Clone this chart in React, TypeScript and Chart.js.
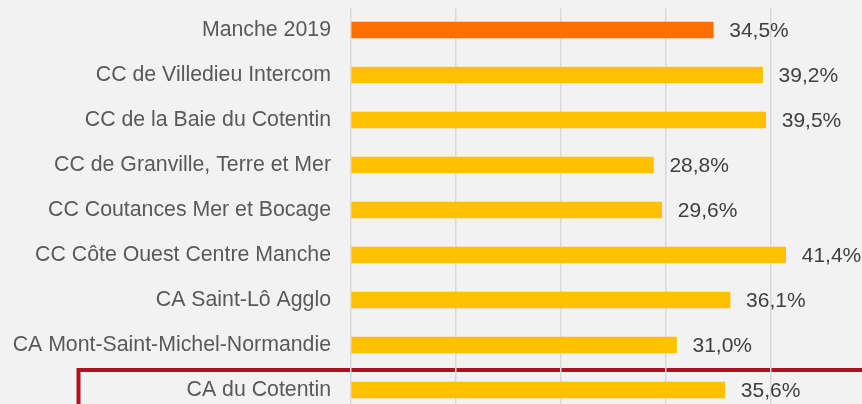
import React, { useEffect, useRef } from "react";
import { Chart, registerables } from "chart.js";

Chart.register(...registerables);

const categories = [
  "Manche 2019",
  "CC de Villedieu Intercom",
  "CC de la Baie du Cotentin",
  "CC de Granville, Terre et Mer",
  "CC Coutances Mer et Bocage",
  "CC Côte Ouest Centre Manche",
  "CA Saint-Lô Agglo",
  "CA Mont-Saint-Michel-Normandie",
  "CA du Cotentin",
];
const values = [34.5, 39.2, 39.5, 28.8, 29.6, 41.4, 36.1, 31.0, 35.6];
const barColors = [
  "#FF6F00",
  "#FFC000",
  "#FFC000",
  "#FFC000",
  "#FFC000",
  "#FFC000",
  "#FFC000",
  "#FFC000",
  "#FFC000",
];
const highlightIndex = 8;
const xTicks = [0, 10, 20, 30, 40, 50];

const FONT = "'Liberation Sans', Arial, sans-serif";

const valueLabels = {
  id: "valueLabels",
  afterDatasetsDraw(chart: any) {
    const ctx = chart.ctx;
    const meta = chart.getDatasetMeta(0);
    ctx.save();
    ctx.font = `21px ${FONT}`;
    ctx.fillStyle = "#404040";
    ctx.textAlign = "left";
    ctx.textBaseline = "middle";
    meta.data.forEach((bar: any, i: number) => {
      const txt = values[i].toFixed(1).replace(".", ",") + "%";
      ctx.fillText(txt, bar.x + 16, bar.y + 1);
    });
    ctx.restore();
  },
};

const highlightBox = {
  id: "highlightBox",
  beforeDraw(chart: any) {
    const ctx = chart.ctx;
    const y = chart.scales.y;
    const center = y.getPixelForValue(highlightIndex);
    const band = y.getPixelForValue(1) - y.getPixelForValue(0);
    const top = center - band / 2 + 2.5;
    ctx.save();
    ctx.strokeStyle = "#B0101F";
    ctx.lineWidth = 4;
    ctx.strokeRect(78.5, top, chart.width + 20, band + 40);
    ctx.restore();
  },
};

const bgPlugin = {
  id: "bg",
  beforeDraw(chart: any) {
    const ctx = chart.ctx;
    ctx.save();
    ctx.fillStyle = "#F2F2F2";
    ctx.fillRect(0, 0, chart.width, chart.height);
    ctx.restore();
  },
};

export default function App() {
  const ref = useRef<HTMLCanvasElement | null>(null);
  useEffect(() => {
    if (!ref.current) return;
    const chart = new Chart(ref.current, {
      type: "bar",
      data: {
        labels: categories,
        datasets: [
          {
            data: values,
            backgroundColor: barColors,
            barThickness: 16,
            borderWidth: 0,
          },
        ],
      },
      plugins: [bgPlugin, highlightBox, valueLabels],
      options: {
        indexAxis: "y",
        animation: false,
        responsive: false,
        maintainAspectRatio: false,
        layout: { padding: { top: 7.5, bottom: 0.5, left: 0, right: 4 } },
        plugins: { legend: { display: false }, tooltip: { enabled: false } },
        scales: {
          x: {
            min: xTicks[0],
            max: xTicks[xTicks.length - 1],
            afterBuildTicks: (scale: any) => {
              scale.ticks = xTicks.map((v) => ({ value: v }));
            },
            afterFit: (scale: any) => {
              scale.height = 0;
              scale.paddingLeft = 0;
              scale.paddingRight = 0;
              scale.paddingTop = 0;
              scale.paddingBottom = 0;
            },
            grid: { color: "#D9D9D9", lineWidth: 1.5, drawTicks: false },
            border: { display: false },
            ticks: { display: false },
          },
          y: {
            grid: { display: false, drawTicks: false },
            border: { display: false },
            ticks: {
              color: "#595959",
              font: { family: FONT, size: 21.3 },
              padding: 20,
            },
            afterFit: (scale: any) => {
              scale.width = 351;
              scale.paddingTop = 0;
              scale.paddingBottom = 0;
            },
          },
        },
      },
    });
    return () => chart.destroy();
  }, []);
  return (
    <div
      style={{
        position: "fixed",
        left: 0,
        top: 0,
        width: 862,
        height: 404,
        overflow: "hidden",
        background: "#F2F2F2",
      }}
    >
      <canvas ref={ref} width={880} height={413} style={{ display: "block" }} />
    </div>
  );
}
